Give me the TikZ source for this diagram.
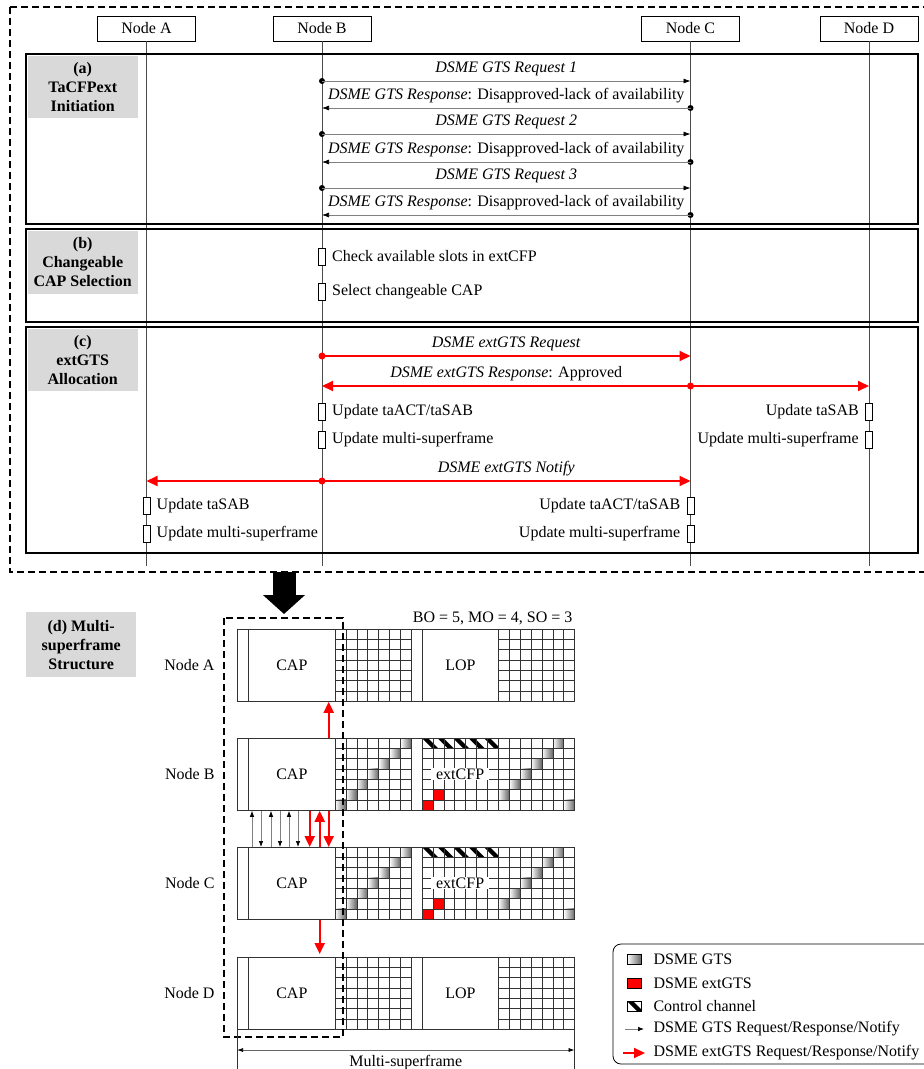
\documentclass[tikz,border=0pt]{standalone}
\usepackage{fontspec}
\setmainfont{Liberation Serif}
\usetikzlibrary{arrows.meta,positioning}
\definecolor{tagGray}{RGB}{217,217,217}
\definecolor{extRed}{RGB}{255,0,0}
\newcommand{\fsz}{\fontsize{16}{19}\selectfont}
\newcommand{\slotgrid}[2]{%
  \foreach \i in {0,...,7}
    \draw[slot] ({#1+\i*10.9},#2) -- ({#1+\i*10.9},{#2+72.1});
  \foreach \j in {0,...,7}
    \draw[slot] (#1,{#2+\j*10.3}) -- ({#1+76.3},{#2+\j*10.3});
}

\begin{document}
\begin{tikzpicture}[x=1pt,y=-1pt,>=Latex,
  every node/.style={font=\fsz},
  lifebox/.style={draw,minimum width=98pt,minimum height=25pt,inner sep=0pt},
  life/.style={draw=black!70,line width=.7pt},
  phase/.style={draw,line width=1.6pt},
  tag/.style={fill=tagGray,font=\fsz\bfseries,align=center,anchor=north west,minimum width=110pt,inner sep=0pt},
  msg/.style={draw=black!50,line width=.7pt,-{Latex[color=black,length=7pt,width=5pt]}},
  ext/.style={draw=extRed,line width=2pt,-{Triangle[length=11pt,width=10pt]}},
  gts/.style={draw=black!50,line width=.7pt,-{Latex[color=black,length=6pt,width=4.5pt]}},
  bar/.style={draw,fill=white,minimum width=7pt,minimum height=17pt,inner sep=0pt},
  slot/.style={draw=black!80,line width=.6pt},
  frame/.style={draw=black!80,line width=.7pt},
  dashbox/.style={line width=2pt,dash pattern=on 7pt off 4pt},
  gtscell/.style={left color=white,right color=black!60}]
\useasboundingbox (0,0) rectangle (924,1069);

\foreach \nm/\x in {A/146.5,B/322,C/690.5,D/869}{
  \node[lifebox] (\nm) at (\x,28.5) {Node \nm};
  \coordinate (\nm end) at (\x,566);
  \draw[life] (\nm) -- (\nm end);
}

\draw[phase] (26,54) rectangle (918,224);
\draw[phase] (26,229) rectangle (918,322);
\draw[phase] (26,327) rectangle (918,553);
\node[tag,minimum height=62pt] (tagA) at (27.5,55.5) {(a)\\TaCFPext\\Initiation};
\node[tag,minimum height=63pt] (tagB) at (27.5,230.5) {(b)\\Changeable\\CAP Selection};
\node[tag,minimum height=62pt] (tagC) at (27.5,328.5) {(c)\\extGTS\\Allocation};

\foreach \i/\q/\r in {1/81/108,2/134/162,3/188/215}{
  \coordinate (bq\i) at (322,\q);
  \coordinate (cq\i) at (690.5,\q);
  \coordinate (br\i) at (322,\r);
  \coordinate (cr\i) at (690.5,\r);
  \fill (bq\i) circle (3pt);
  \draw[msg] (bq\i) -- node[above=1pt]{\textit{DSME GTS Request \i}} (cq\i);
  \fill (cr\i) circle (3pt);
  \draw[msg] (cr\i) -- node[above=1pt]{\textit{DSME GTS Response}: Disapproved-lack of availability} (br\i);
}

\node[bar] (bc1) at (322,256.5) {};
\node[right=3pt of bc1] {Check available slots in extCFP};
\node[bar] (bc2) at (322,292) {};
\node[right=3pt of bc2] {Select changeable CAP};

\coordinate (bx1) at (322,356);
\coordinate (cx1) at (690.5,356);
\coordinate (bx2) at (322,386);
\coordinate (cx2) at (690.5,386);
\coordinate (dx2) at (869,386);
\coordinate (ax3) at (146.5,481);
\coordinate (bx3) at (322,481);
\coordinate (cx3) at (690.5,481);
\fill[extRed] (bx1) circle (3.5pt);
\draw[ext] (bx1) -- node[above=1pt]{\textit{DSME extGTS Request}} (cx1);
\fill[extRed] (cx2) circle (3.5pt);
\draw[ext] (cx2) -- node[above=1pt]{\textit{DSME extGTS Response}: Approved} (bx2);
\draw[ext] (cx2) -- (dx2);
\fill[extRed] (bx3) circle (3.5pt);
\draw[ext] (bx3) -- (ax3);
\draw[ext] (bx3) -- node[above=1pt]{\textit{DSME extGTS Notify}} (cx3);

\node[bar] (ub1) at (322,411.5) {};
\node[right=3pt of ub1] {Update taACT/taSAB};
\node[bar] (ub2) at (322,439.5) {};
\node[right=3pt of ub2] {Update multi-superframe};
\node[bar] (ud1) at (869,411.5) {};
\node[left=3pt of ud1] {Update taSAB};
\node[bar] (ud2) at (869,439.5) {};
\node[left=3pt of ud2] {Update multi-superframe};
\node[bar] (ua1) at (146.5,505.5) {};
\node[right=3pt of ua1] {Update taSAB};
\node[bar] (ua2) at (146.5,533.5) {};
\node[right=3pt of ua2] {Update multi-superframe};
\node[bar] (uc1) at (690.5,505.5) {};
\node[left=3pt of uc1] {Update taACT/taSAB};
\node[bar] (uc2) at (690.5,533.5) {};
\node[left=3pt of uc2] {Update multi-superframe};

\draw[dashbox] (10,7) -- (935,7) (10,7) -- (10,572) -- (935,572);

\coordinate (down1) at (284,572);
\coordinate (down2) at (284,614);
\draw[line width=23pt,-{Triangle[length=19pt,width=41pt]}] (down1) -- (down2);

\node[tag,minimum height=65pt] (tagD) at (26,612) {(d) Multi-\\superframe\\Structure};
\node[anchor=east] (bo) at (576,618) {BO = 5, MO = 4, SO = 3};

\foreach \nm/\ry/\ext in {A/629/0,B/738/1,C/847/1,D/957/0}{
  \node[anchor=east] (lbl\nm) at (218,\ry+36) {Node \nm};
  \ifnum\ext=1
    \foreach \c in {0,...,6}{
      \shade[gtscell] ({335+\c*10.9},{\ry+(6-\c)*10.3}) rectangle ++(10.9,10.3);
      \pgfmathtruncatemacro\rr{mod(12-\c,7)}
      \shade[gtscell] ({498.3+\c*10.9},{\ry+\rr*10.3}) rectangle ++(10.9,10.3);
    }
    \fill[extRed] (422,{\ry+6*10.3}) rectangle ++(10.9,10.3);
    \fill[extRed] (432.9,{\ry+5*10.3}) rectangle ++(10.9,10.3);
    \begin{scope}
      \clip (422,\ry) rectangle (498.3,{\ry+10.3});
      \foreach \k in {-1,...,5}
        \fill ({422+\k*15.5},\ry) -- ++(6,0) -- ++(10.3,10.3) -- ++(-6,0) -- cycle;
    \end{scope}
    \slotgrid{335}{\ry}
    \slotgrid{422}{\ry}
    \slotgrid{498.3}{\ry}
    \node[fill=white,inner xsep=5pt,inner ysep=1pt] (cfp\nm) at (460.15,\ry+36) {extCFP};
  \else
    \slotgrid{335}{\ry}
    \slotgrid{498.3}{\ry}
    \node[frame,minimum width=76.3pt,minimum height=72.1pt,anchor=north west,inner sep=0pt] (lop\nm) at (422,\ry) {LOP};
  \fi
  \draw[frame] (237,\ry) rectangle (574.6,{\ry+72.1});
  \draw[frame] (248,\ry) -- (248,{\ry+72.1});
  \draw[frame] (411.3,\ry) -- (411.3,{\ry+72.1});
  \draw[frame] (422,\ry) -- (422,{\ry+72.1});
  \node[frame,fill=white,minimum width=87pt,minimum height=72.1pt,anchor=north west,inner sep=0pt] (cap\nm) at (248,\ry) {CAP};
}

\draw[ext] ([xshift=-7pt]capB.north east) -- ([xshift=-7pt]capA.south east);
\draw[ext,shorten >=3pt] ([xshift=-16pt]capC.south east) -- ([xshift=-16pt]capD.north east);
\foreach \o in {4,23,41}
  \draw[gts] ([xshift=\o pt]capC.north west) -- ([xshift=\o pt]capB.south west);
\foreach \o in {13,32,50}
  \draw[gts] ([xshift=\o pt]capB.south west) -- ([xshift=\o pt]capC.north west);
\foreach \o in {26,7}
  \draw[ext] ([xshift=-\o pt]capB.south east) -- ([xshift=-\o pt]capC.north east);
\draw[ext] ([xshift=-16pt]capC.north east) -- ([xshift=-16pt]capB.south east);

\draw[dashbox] (224,618) rectangle (343,1037);

\coordinate (ms1) at (237,1050);
\coordinate (ms2) at (574.6,1050);
\draw[frame] (237,1029) -- (237,1069) (574.6,1029) -- (574.6,1069);
\draw[draw=black!60,line width=.7pt,{Latex[color=black,length=6pt,width=4pt]}-{Latex[color=black,length=6pt,width=4pt]}] (ms1) -- (ms2);
\node[anchor=base] (msf) at (405.8,1066) {Multi-superframe};

\draw[line width=.8pt,rounded corners=8pt] (613,944) rectangle (945,1064);
\shade[gtscell,draw=black] (627,954) rectangle ++(14,10);
\node[anchor=west] (lg1) at (650,959) {DSME GTS};
\filldraw[fill=extRed,draw=black] (627,978) rectangle ++(14,10);
\node[anchor=west] (lg2) at (650,983) {DSME extGTS};
\begin{scope}
  \clip (627,1001) rectangle ++(14,10);
  \fill (627,1001) -- ++(6,0) -- ++(10,10) -- ++(-6,0) -- cycle;
\end{scope}
\draw (627,1001) rectangle ++(14,10);
\node[anchor=west] (lg3) at (650,1006) {Control channel};
\node[anchor=west] (lg4) at (650,1029) {DSME GTS Request/Response/Notify};
\coordinate (lg4a) at (625,1029);
\draw[gts] (lg4a) -- ([xshift=-6pt]lg4.west);
\node[anchor=west] (lg5) at (650,1053) {DSME extGTS Request/Response/Notify};
\coordinate (lg5a) at (623,1053);
\draw[ext] (lg5a) -- ([xshift=-5pt]lg5.west);
\end{tikzpicture}
\end{document}
